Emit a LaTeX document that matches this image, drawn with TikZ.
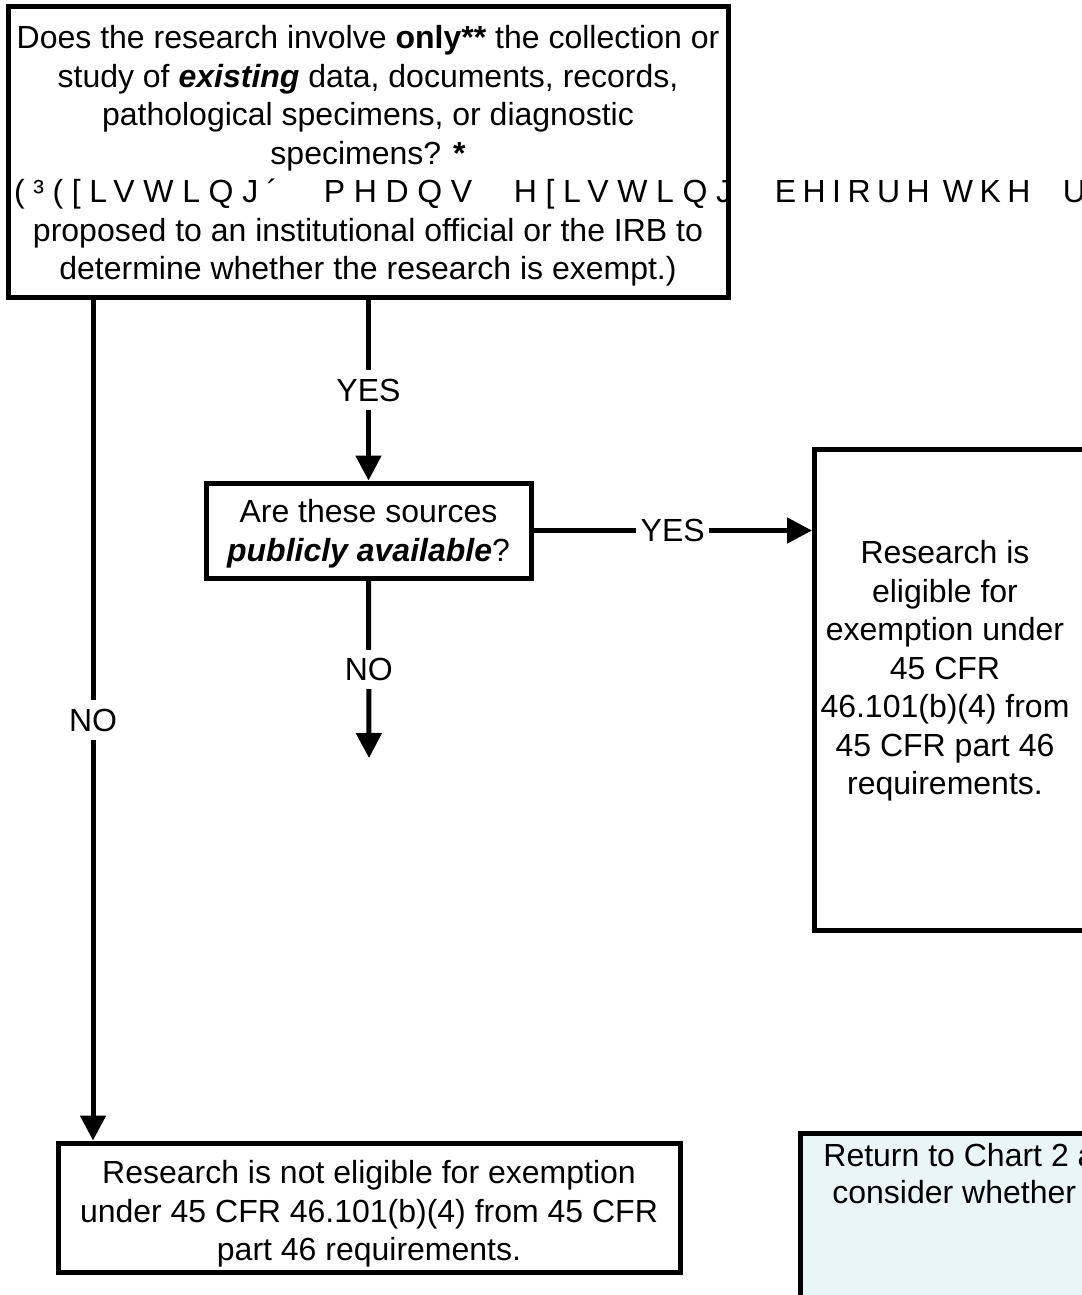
\documentclass[tikz,border=0pt]{standalone}
\usepackage{fontspec}
\setmainfont{Liberation Sans}
\newfontfamily\spacedfont[LetterSpace=20]{Liberation Sans}
\newfontfamily\widefont[LetterSpace=27]{Liberation Sans}
\usetikzlibrary{arrows.meta}
\definecolor{retfill}{RGB}{234,245,248}
\begin{document}
\begin{tikzpicture}[x=0.5pt,y=-0.5pt,
  font=\fontsize{16}{19.25}\selectfont,
  box/.style={draw=black, line width=2.5pt, fill=white, inner sep=0pt, align=center},
  conn/.style={line width=2.5pt, draw=black},
  arr/.style={conn, -{Triangle[length=12.5pt,width=12.5pt]}},
  lbl/.style={fill=white, inner xsep=2.2pt, inner ysep=4.2pt},
  plain/.style={inner sep=0pt},
  txt/.style={inner sep=0pt, align=center}
]
\useasboundingbox (0,0) rectangle (1081,1295);

% boxes
\node[box, minimum width=360pt, minimum height=145pt] (q1) at (368,152) {};
\node[box, minimum width=162.5pt, minimum height=47.5pt] (pub) at (368.5,530.5) {};
\node[box, minimum width=150pt, minimum height=240.5pt, anchor=north west] (elig) at (812,447) {};
\node[box, minimum width=311pt, minimum height=64.5pt] (nel) at (369,1207.5) {};
\node[box, fill=retfill, minimum width=150pt, minimum height=100pt, anchor=north west] (ret) at (798,1131) {};

% texts
\node[txt] (q1txt) at (368,156)
{Does the research involve \textbf{only**} the collection or\\
 study of \textbf{\textit{existing}} data, documents, records,\\
 pathological specimens, or diagnostic\\
 specimens? \textbf{*}\\
 \makebox[0pt][l]{\hspace*{-177pt}{\widefont (³([LVWLQJ´}}\makebox[0pt][l]{\hspace*{-22pt}{\widefont PHDQV}}\makebox[0pt][l]{\hspace*{73pt}{\widefont H[LVWLQJ}}\makebox[0pt][l]{\hspace*{203.5pt}{\spacedfont EHIRUH}}\makebox[0pt][l]{\hspace*{287.5pt}{\spacedfont WKH}}\makebox[0pt][l]{\hspace*{347.5pt}{\spacedfont U}}\\
 proposed to an institutional official or the IRB to\\
 determine whether the research is exempt.)};

\node[txt] (pubtxt) at (368.5,533.5)
{Are these sources\\ \textbf{\textit{publicly available}}?};

\node[txt] (eligtxt) at (945,671)
{Research is\\ eligible for\\ exemption under\\ 45 CFR\\ 46.101(b)(4) from\\ 45 CFR part 46\\ requirements.};

\node[txt] (neltxt) at (369,1214)
{Research is not eligible for exemption\\ under 45 CFR 46.101(b)(4) from 45 CFR\\ part 46 requirements.};

\node[plain, anchor=base west] (ret1) at (823,1166) {Return to Chart 2 a};
\node[plain, anchor=base west] (ret2) at (832,1203) {consider whether};

% connectors
\coordinate (lx) at (93,0);
\coordinate (noend) at (369,758);

\draw[arr] (q1.south -| pub.north) -- node[lbl] (yes1) {YES} (pub.north);
\draw[arr] (q1.south -| lx) -- node[lbl] (no1) {NO} (nel.north -| lx);
\draw[arr] (pub.east) -- node[lbl] (yes2) {YES} (pub.east -| elig.west);
\draw[arr] (pub.south) -- node[lbl] (no2) {NO} (noend);
\end{tikzpicture}
\end{document}
